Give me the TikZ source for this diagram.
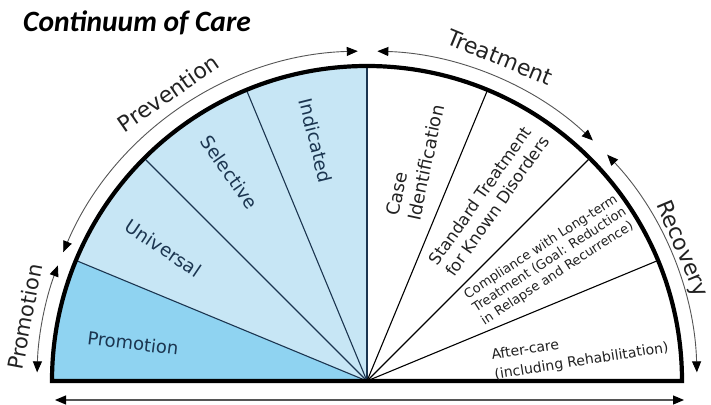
\documentclass[tikz,border=0pt]{standalone}
\usepackage{fontspec}
\setmainfont{DejaVu Sans}
\newfontfamily\titlefont{Carlito}
\usetikzlibrary{arrows.meta}
\definecolor{promoblue}{HTML}{8FD3F1}
\definecolor{prevblue}{HTML}{C7E6F5}
\definecolor{navy}{HTML}{1B3550}
\definecolor{arcgray}{HTML}{555555}
\definecolor{txtdark}{HTML}{222222}
\begin{document}
\begin{tikzpicture}[x=1pt,y=1pt,
  dblarrow/.style={arcgray, line width=0.9pt,
    {Triangle[length=11pt,width=9pt,color=black]}-{Triangle[length=11pt,width=9pt,color=black]}},
  spokeblue/.style={navy, line width=1.1pt},
  spokewhite/.style={black, line width=1.1pt},
  inlab/.style={text=navy, inner sep=0pt},
  wlab/.style={text=txtdark, inner sep=0pt, align=left},
  outlab/.style={text=txtdark, inner sep=0pt, font=\fontsize{22}{26}\selectfont}
]
\useasboundingbox (0,0) rectangle (711,404);
\fill[white] (0,0) rectangle (711,404);
\coordinate (O) at (367,23);

\node[anchor=base west, inner sep=0pt, text=black,
  font=\titlefont\fontsize{29.5}{32}\selectfont\bfseries\itshape] (title) at (23,372) {Continuum of Care};

\begin{scope}[shift={(O)}]
  % sector fills
  \fill[promoblue] (0,0) -- (180:315pt) arc[start angle=180, end angle=157.5, radius=315pt] -- cycle;
  \fill[prevblue] (0,0) -- (157.5:315pt) arc[start angle=157.5, end angle=90, radius=315pt] -- cycle;

  % spokes
  \coordinate (c) at (0,0);
  \foreach \a in {157.5,135,112.5,90} \draw[spokeblue] (c) -- (\a:315pt);
  \foreach \a in {67.5,45,22.5} \draw[spokewhite] (c) -- (\a:315pt);

  % outline
  \draw[line width=4.2pt, line join=miter] (180:315pt) arc[start angle=180, end angle=0, radius=315pt] -- cycle;

  % outer arrows
  \draw[dblarrow] (157:330pt) arc[start angle=157, end angle=91.6, radius=330pt];
  \draw[dblarrow] (159.5:330pt) arc[start angle=159.5, end angle=178.5, radius=330pt];
  \draw[dblarrow] (88.2:330pt) arc[start angle=88.2, end angle=46.8, radius=330pt];
  \draw[dblarrow] (43.3:330pt) arc[start angle=43.3, end angle=1.5, radius=330pt];

  % inner labels
  \node[inlab, rotate=-7, font=\fontsize{18}{22}\selectfont] (lpromo) at (170.8:237pt) {Promotion};
  \node[inlab, rotate=-34, font=\fontsize{18.5}{22}\selectfont] (luniv) at (146.9:243pt) {Universal};
  \node[inlab, rotate=-55, font=\fontsize{18.5}{22}\selectfont] (lsel) at (123.4:250pt) {Selective};
  \node[inlab, rotate=-76, font=\fontsize{18.5}{22}\selectfont] (lind) at (102:246pt) {Indicated};
  \node[wlab, rotate=78, font=\fontsize{18}{22}\selectfont] (lcase) at (77.7:226pt) {Case\\Identification};
  \node[wlab, rotate=55, font=\fontsize{16.5}{20}\selectfont] (lstd) at (56:218pt) {Standard Treatment\\for Known Disorders};
  \node[wlab, rotate=33, font=\fontsize{13}{15.5}\selectfont] (lcomp) at (33.5:219pt) {Compliance with Long-term\\Treatment (Goal: Reduction\\in Relapse and Recurrence)};
  \node[wlab, rotate=9, font=\fontsize{14}{20}\selectfont] (laft) at (7.8:215pt) {After-care\\(including Rehabilitation)};

  % outer labels
  \node[outlab, rotate=34.6] (oprev) at (124.6:350pt) {Prevention};
  \node[outlab, rotate=-22.3] (otreat) at (67.7:350pt) {Treatment};
  \node[outlab, rotate=-67.2] (orec) at (22.8:341pt) {Recovery};
  \node[outlab, rotate=79.4, font=\fontsize{21}{25}\selectfont] (opromo) at (169.4:348pt) {Promotion};
\end{scope}

% bottom arrow
\coordinate (bl) at (55,4);
\coordinate (br) at (684,4);
\draw[arcgray, line width=1.2pt,
  {Triangle[length=11pt,width=9pt,color=black]}-{Triangle[length=11pt,width=9pt,color=black]}] (bl) -- (br);
\end{tikzpicture}
\end{document}
